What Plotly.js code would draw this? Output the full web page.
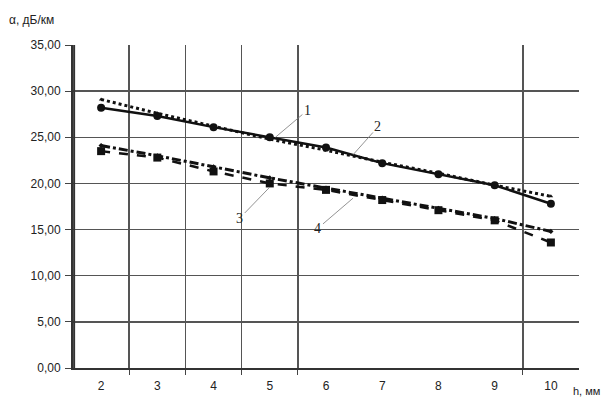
<!DOCTYPE html>
<html>
<head>
<meta charset="utf-8">
<script src="https://cdn.plot.ly/plotly-3.0.1.min.js"></script>
<style>html,body{margin:0;padding:0;background:#fff;}#chart{width:603px;height:405px;}</style>
</head>
<body>
<div id="chart"></div>
<script>
// categories (x axis values)
const xCats = [2, 3, 4, 5, 6, 7, 8, 9, 10];
// series 1: measured, solid line with circles
const series1 = [28.2, 27.3, 26.1, 25.0, 23.9, 22.2, 21.0, 19.8, 17.8];
// series 2: dotted line (approximation of 1)
const series2 = [29.1, 27.6, 26.2, 24.8, 23.6, 22.3, 21.1, 19.8, 18.6];
// series 3: dashed line with squares
const series3 = [23.5, 22.8, 21.3, 20.0, 19.3, 18.2, 17.1, 16.0, 13.6];
// series 4: dash-dot line (approximation of 3)
const series4 = [24.1, 23.0, 21.8, 20.6, 19.5, 18.4, 17.3, 16.2, 14.8];
const yTicks = [0, 5, 10, 15, 20, 25, 30, 35];
const yGrid = [5, 10, 15, 20, 25, 30];
const xBounds = [2.5, 3.5, 4.5, 5.5, 9.5];
const yTitle = 'α, дБ/км';
const xTitle = 'h, мм';
const labels = ['1', '2', '3', '4'];

const font = {family: 'Liberation Sans, Arial, sans-serif', size: 12, color: '#222'};

const traces = [
  {x: xCats, y: series2, mode: 'lines+markers', line: {color: '#111', width: 3, dash: 'dot'},
   marker: {symbol: 'triangle-up', size: 4, color: '#111'}},
  {x: xCats, y: series1, mode: 'lines+markers', line: {color: '#111', width: 2.5},
   marker: {symbol: 'circle', size: 8, color: '#111'}},
  {x: xCats, y: series4, mode: 'lines+markers', line: {color: '#111', width: 3, dash: 'dashdot'},
   marker: {symbol: 'diamond', size: 4, color: '#111'}},
  {x: xCats, y: series3, mode: 'lines+markers', line: {color: '#111', width: 2.5, dash: 'dash'},
   marker: {symbol: 'square', size: 8, color: '#111'}}
];

const ann = (x, y, t, ax, ay) => ({
  x: x, y: y, xref: 'x', yref: 'y', text: t, showarrow: true, arrowhead: 0,
  arrowwidth: 0.8, arrowcolor: '#777', ax: ax, ay: ay,
  font: {family: 'Liberation Serif, serif', size: 14, color: '#222'}
});

const layout = {
  width: 603, height: 405,
  margin: {l: 73, r: 24, t: 45, b: 37},
  paper_bgcolor: '#fff', plot_bgcolor: '#fff',
  showlegend: false,
  font: font,
  xaxis: {
    range: [1.5, 10.5], tickmode: 'array', tickvals: xCats, ticktext: xCats.map(String),
    showgrid: false, zeroline: false, showline: true, linecolor: '#333', linewidth: 1.5,
    ticks: '', ticklabelstandoff: 6,
    minor: {tickmode: 'array', tickvals: xBounds, showgrid: true, gridcolor: '#555', gridwidth: 1.5,
            ticks: 'outside', ticklen: 5, tickcolor: '#444'},
    tickfont: font, fixedrange: true
  },
  yaxis: {
    range: [0, 35], tickmode: 'array', tickvals: yTicks, tickformat: '.2f',
    showgrid: false, zeroline: false, showline: true, linecolor: '#333', linewidth: 2,
    ticks: 'outside', ticklen: 6, tickcolor: '#444', ticklabelstandoff: 2,
    minor: {tickmode: 'array', tickvals: yGrid, showgrid: true, gridcolor: '#555', gridwidth: 1.5, ticks: ''},
    tickfont: font, fixedrange: true
  },
  separators: ', ',
  shapes: [
    {type: 'line', xref: 'x', yref: 'paper', x0: 1.52, x1: 1.52, y0: 0, y1: 1,
     line: {color: '#333', width: 2}, layer: 'above'}
  ],
  annotations: [
    ann(5.1, 25.0, labels[0], 32, -27),
    ann(6.48, 23.1, labels[1], 25, -28),
    ann(5.0, 19.6, labels[2], -30, 31),
    ann(6.48, 18.4, labels[3], -35, 30),
    {xref: 'paper', yref: 'paper', x: -0.13, y: 1.05, xanchor: 'left', yanchor: 'bottom',
     text: yTitle, showarrow: false, font: {family: 'Liberation Sans, Arial, sans-serif', size: 12, color: '#222'}},
    {xref: 'paper', yref: 'paper', x: 0.985, y: -0.045, xanchor: 'left', yanchor: 'top',
     text: xTitle, showarrow: false, font: {family: 'Liberation Sans, Arial, sans-serif', size: 11, color: '#222'}}
  ]
};

Plotly.newPlot('chart', traces, layout, {displayModeBar: false, staticPlot: true});
</script>
</body>
</html>
